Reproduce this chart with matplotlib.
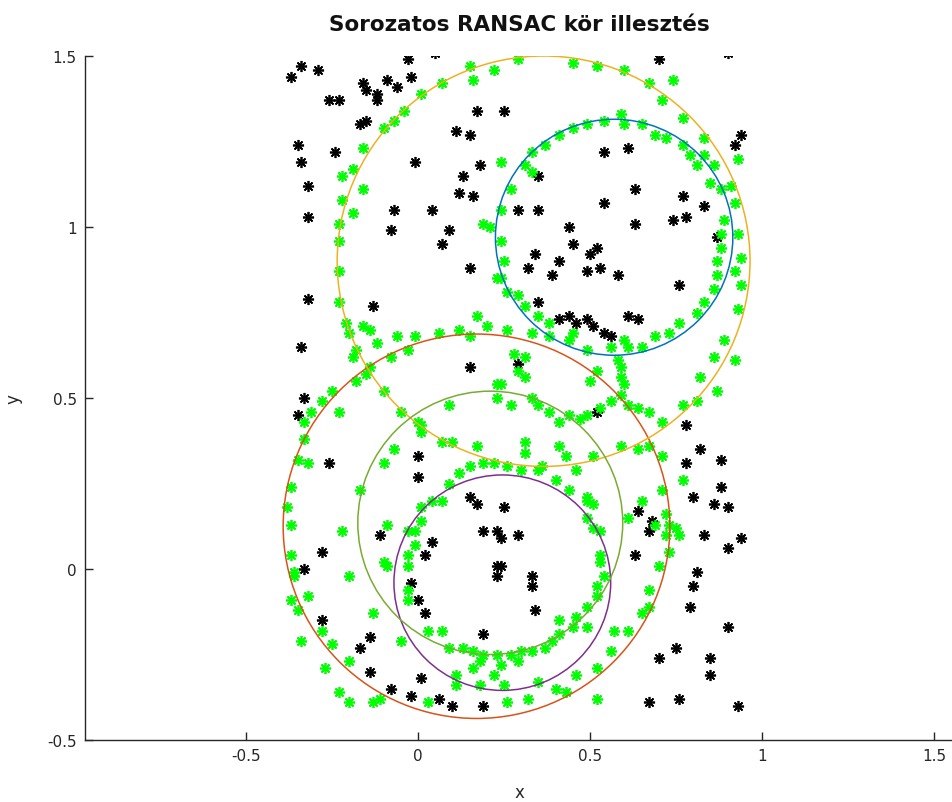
import numpy as np
import matplotlib
matplotlib.use("Agg")
import matplotlib.pyplot as plt
from matplotlib.patches import Circle

title = "Sorozatos RANSAC kör illesztés"
xlabel = "x"
ylabel = "y"
xticks = [-0.5, 0, 0.5, 1, 1.5]
xticklabels = ["-0.5", "0", "0.5", "1", "1.5"]
yticks = [-0.5, 0, 0.5, 1, 1.5]
yticklabels = ["-0.5", "0", "0.5", "1", "1.5"]

# fitted circles (center x, center y, radius)
circle_cx = [0.57, 0.17, 0.365, 0.245, 0.21]
circle_cy = [0.97, 0.125, 0.90, -0.04, 0.135]
circle_r = [0.345, 0.562, 0.60, 0.315, 0.385]
circle_colors = ["#0072BD", "#D95319", "#EDB120", "#7E2F8E", "#77AC30"]

# outlier points (black)
outlier_xy = [
    (-0.37, 1.44), (-0.34, 1.47), (-0.29, 1.46), (-0.03, 1.49), (0.05, 1.51),
    (-0.16, 1.42), (-0.15, 1.40), (-0.12, 1.39), (-0.12, 1.37), (-0.09, 1.43),
    (-0.06, 1.41), (-0.02, 1.44), (-0.26, 1.37), (-0.23, 1.37), (-0.17, 1.30),
    (-0.15, 1.31), (0.17, 1.34), (0.11, 1.28), (0.15, 1.27), (-0.35, 1.24),
    (-0.24, 1.22), (-0.34, 1.19), (-0.01, 1.19), (0.18, 1.18), (0.13, 1.15),
    (0.12, 1.10), (0.16, 1.09), (-0.32, 1.12), (-0.32, 1.03), (-0.07, 1.05),
    (0.04, 1.05), (-0.08, 0.99), (0.09, 0.99), (0.07, 0.95), (0.15, 0.88),
    (0.70, 1.49), (0.90, 1.51), (0.25, 1.34), (0.54, 1.22), (0.61, 1.23),
    (0.35, 1.15), (0.63, 1.11), (0.54, 1.07), (0.77, 1.09), (0.83, 1.06),
    (0.29, 1.05), (0.35, 1.05), (0.78, 1.03), (0.74, 1.02), (0.63, 1.01),
    (0.44, 1.00), (0.87, 0.97), (0.45, 0.95), (0.52, 0.94), (0.50, 0.92),
    (0.34, 0.92), (0.41, 0.90), (0.32, 0.88), (0.39, 0.86), (0.49, 0.87),
    (0.53, 0.88), (0.58, 0.86), (0.76, 0.83), (0.94, 1.27), (0.92, 1.24),
    (-0.32, 0.79), (-0.13, 0.77), (-0.34, 0.65), (0.15, 0.59), (-0.33, 0.50),
    (-0.35, 0.45), (-0.26, 0.31), (0.00, 0.33), (0.00, 0.27), (0.15, 0.21),
    (0.35, 0.78), (0.41, 0.73), (0.44, 0.74), (0.46, 0.72), (0.49, 0.73),
    (0.51, 0.71), (0.54, 0.69), (0.56, 0.68), (0.61, 0.74), (0.64, 0.73),
    (0.29, 0.60), (0.52, 0.46), (0.78, 0.42), (0.82, 0.35), (0.78, 0.31),
    (0.88, 0.32), (0.88, 0.24), (0.80, 0.21), (0.17, 0.19), (0.19, 0.11),
    (0.23, 0.11), (0.04, 0.08), (-0.11, 0.10), (0.02, 0.04), (-0.28, 0.05),
    (-0.33, 0.00), (-0.02, -0.04), (0.23, 0.01), (0.23, -0.02), (0.00, -0.09),
    (0.02, -0.13), (-0.28, -0.15), (0.19, -0.19), (-0.14, -0.20), (-0.17, -0.23),
    (-0.14, -0.30), (0.01, -0.32), (-0.08, -0.35), (-0.02, -0.37), (0.06, -0.38),
    (0.10, -0.40), (0.19, -0.40), (0.25, 0.18), (0.64, 0.17), (0.68, 0.14),
    (0.67, 0.11), (0.86, 0.19), (0.90, 0.18), (0.29, 0.10), (0.24, 0.09),
    (0.83, 0.10), (0.90, 0.06), (0.63, 0.04), (0.24, 0.01), (0.33, -0.02),
    (0.33, -0.05), (0.81, -0.01), (0.80, -0.05), (0.79, -0.11), (0.34, -0.12),
    (0.90, -0.17), (0.75, -0.23), (0.70, -0.26), (0.85, -0.26), (0.85, -0.31),
    (0.67, -0.39), (0.76, -0.38), (0.94, 0.09), (0.93, -0.40),
]

# inlier points (green)
inlier_xy = [
    (0.15, 1.47), (0.22, 1.46), (0.16, 1.43), (0.07, 1.42), (0.01, 1.39),
    (-0.04, 1.34), (-0.07, 1.31), (-0.10, 1.29), (-0.16, 1.23), (-0.19, 1.17),
    (-0.22, 1.15), (-0.16, 1.11), (-0.22, 1.08), (-0.19, 1.04), (-0.23, 1.01),
    (-0.23, 0.96), (0.19, 1.01), (0.21, 1.00), (0.24, 1.19),
    (0.29, 1.49), (0.45, 1.48), (0.52, 1.47), (0.60, 1.46), (0.67, 1.42),
    (0.74, 1.43), (0.71, 1.37), (0.77, 1.32), (0.83, 1.26), (0.59, 1.33),
    (0.54, 1.31), (0.49, 1.30), (0.60, 1.30), (0.65, 1.30), (0.69, 1.27),
    (0.72, 1.26), (0.45, 1.29), (0.41, 1.27), (0.37, 1.24), (0.33, 1.22),
    (0.31, 1.18), (0.33, 1.16), (0.27, 1.11), (0.24, 1.05), (0.77, 1.24),
    (0.79, 1.21), (0.83, 1.21), (0.81, 1.18), (0.86, 1.18), (0.85, 1.13),
    (0.88, 1.11), (0.89, 1.02), (0.88, 0.98), (0.88, 0.94), (0.87, 0.90),
    (0.24, 0.96), (0.25, 0.90),
    (0.93, 1.20), (0.92, 1.07), (0.93, 0.98), (0.94, 0.91), (0.91, 1.12),
    (0.92, 0.87), (0.94, 0.83), (0.93, 0.76), (0.92, 0.61),
    (-0.23, 0.87), (-0.23, 0.78), (-0.21, 0.72), (-0.20, 0.69), (-0.16, 0.71),
    (-0.14, 0.70), (-0.12, 0.66), (-0.18, 0.64), (-0.19, 0.62), (-0.14, 0.59),
    (-0.15, 0.57), (-0.18, 0.55), (-0.10, 0.52), (-0.06, 0.68), (-0.01, 0.68),
    (-0.03, 0.64), (-0.08, 0.62), (0.06, 0.69), (0.12, 0.70), (0.15, 0.68),
    (0.17, 0.74), (0.20, 0.71), (0.23, 0.85), (-0.25, 0.52), (-0.28, 0.49),
    (-0.23, 0.46), (-0.31, 0.46), (-0.33, 0.43), (-0.33, 0.38), (-0.35, 0.32),
    (-0.32, 0.31), (-0.37, 0.24), (-0.05, 0.46), (0.00, 0.43), (0.01, 0.42),
    (0.01, 0.40), (0.09, 0.48), (0.23, 0.54), (0.23, 0.50), (0.07, 0.37),
    (0.10, 0.37), (0.17, 0.36), (-0.07, 0.35), (-0.10, 0.31), (0.15, 0.30),
    (0.19, 0.31), (0.22, 0.31), (0.12, 0.28), (0.09, 0.25), (-0.17, 0.23),
    (0.24, 0.85), (0.26, 0.81), (0.29, 0.80), (0.31, 0.77), (0.35, 0.74),
    (0.38, 0.72), (0.26, 0.70), (0.33, 0.69), (0.38, 0.68), (0.45, 0.69),
    (0.44, 0.67), (0.49, 0.64), (0.56, 0.65), (0.60, 0.67), (0.61, 0.65),
    (0.65, 0.65), (0.69, 0.68), (0.73, 0.69), (0.76, 0.72), (0.81, 0.75),
    (0.83, 0.78), (0.86, 0.82), (0.87, 0.86), (0.89, 0.67), (0.86, 0.62),
    (0.82, 0.56), (0.87, 0.52), (0.77, 0.48), (0.81, 0.49), (0.71, 0.43),
    (0.64, 0.35), (0.67, 0.36), (0.71, 0.33), (0.59, 0.36), (0.28, 0.63),
    (0.31, 0.62), (0.29, 0.58), (0.31, 0.56), (0.24, 0.54), (0.27, 0.48),
    (0.33, 0.50), (0.35, 0.48), (0.38, 0.46), (0.41, 0.43), (0.44, 0.45),
    (0.47, 0.44), (0.49, 0.45), (0.53, 0.47), (0.56, 0.49), (0.59, 0.51),
    (0.60, 0.54), (0.59, 0.56), (0.59, 0.59), (0.58, 0.61), (0.50, 0.55),
    (0.61, 0.48), (0.64, 0.47), (0.67, 0.46), (0.52, 0.58), (0.31, 0.37),
    (0.31, 0.34), (0.26, 0.30), (0.30, 0.29), (0.35, 0.29), (0.36, 0.30),
    (0.41, 0.36), (0.43, 0.33), (0.46, 0.29), (0.51, 0.33), (0.40, 0.26),
    (0.44, 0.23), (0.49, 0.21), (0.77, 0.26), (0.65, 0.20), (0.71, 0.23),
    (-0.38, 0.18), (-0.37, 0.13), (-0.22, 0.11), (-0.09, 0.13), (0.01, 0.18),
    (0.04, 0.20), (0.07, 0.20), (-0.03, 0.11), (-0.01, 0.11), (0.01, 0.14),
    (-0.01, 0.07), (-0.03, 0.04), (-0.10, 0.02), (-0.09, 0.01), (-0.03, 0.01),
    (-0.37, 0.04), (-0.36, -0.01), (-0.36, -0.02), (-0.20, -0.02), (-0.03, -0.06),
    (-0.03, -0.09), (-0.37, -0.09), (-0.32, -0.08), (-0.35, -0.12), (-0.13, -0.13),
    (-0.28, -0.18), (-0.34, -0.21), (-0.25, -0.22), (-0.05, -0.21), (0.03, -0.18),
    (0.07, -0.18), (0.09, -0.23), (0.13, -0.23), (0.16, -0.24), (0.19, -0.25),
    (0.23, -0.25), (0.18, -0.27), (0.16, -0.29), (0.11, -0.31), (-0.20, -0.27),
    (-0.27, -0.29), (-0.23, -0.36), (-0.20, -0.39), (-0.13, -0.39), (-0.11, -0.38),
    (0.03, -0.39), (0.11, -0.34), (0.18, -0.34), (0.22, -0.31),
    (0.49, 0.20), (0.51, 0.19), (0.49, 0.15), (0.61, 0.15), (0.51, 0.12),
    (0.53, 0.11), (0.53, 0.04), (0.53, 0.02), (0.54, -0.02), (0.52, -0.05),
    (0.52, -0.08), (0.49, -0.11), (0.46, -0.14), (0.49, -0.17), (0.45, -0.17),
    (0.41, -0.15), (0.41, -0.19), (0.39, -0.21), (0.37, -0.23), (0.33, -0.24),
    (0.30, -0.24), (0.27, -0.25), (0.29, -0.27), (0.24, -0.28), (0.25, -0.34),
    (0.35, -0.33), (0.40, -0.35), (0.43, -0.36), (0.32, -0.38), (0.26, -0.39),
    (0.46, -0.31), (0.52, -0.29), (0.52, -0.38), (0.56, -0.24), (0.57, -0.18),
    (0.61, -0.18), (0.65, -0.13), (0.67, -0.11), (0.67, -0.06), (0.70, 0.01),
    (0.73, 0.05), (0.72, 0.10), (0.69, 0.13), (0.73, 0.13), (0.75, 0.12),
    (0.76, 0.10), (0.72, 0.16),
]

W, H = 953, 803
fig = plt.figure(figsize=(W / 100, H / 100), dpi=100)
ax = fig.add_axes([85 / W, 62 / H, 868 / W, 684 / H])

asterisk = (8, 2, 0)
ox, oy = zip(*outlier_xy)
ix, iy = zip(*inlier_xy)
ax.plot(ox, oy, linestyle="none", marker=asterisk, markersize=8,
        markeredgewidth=1.25, color="black", zorder=2)
ax.plot(ix, iy, linestyle="none", marker=asterisk, markersize=8,
        markeredgewidth=1.25, color="#00FF00", zorder=3)

for cx, cy, r, c in zip(circle_cx, circle_cy, circle_r, circle_colors):
    ax.add_patch(Circle((cx, cy), r, fill=False, edgecolor=c, linewidth=1.1, zorder=4))

ax.set_xlim(-0.968, 1.555)
ax.set_ylim(-0.5, 1.5)
ax.set_xticks(xticks)
ax.set_xticklabels(xticklabels)
ax.set_yticks(yticks)
ax.set_yticklabels(yticklabels)

for s in ["top", "right"]:
    ax.spines[s].set_visible(False)
for s in ["left", "bottom"]:
    ax.spines[s].set_color("#262626")
    ax.spines[s].set_linewidth(1.0)
ax.tick_params(direction="in", length=6, width=1.0, color="#262626",
               labelcolor="#262626", labelsize=11, pad=6)

ax.set_xlabel(xlabel, fontsize=12, color="#262626", labelpad=14)
ax.set_ylabel(ylabel, fontsize=12, color="#262626", labelpad=18)
ax.set_title(title, fontsize=15.5, fontweight="bold", color="#111111", pad=19)

fig.savefig("out.png", dpi=100)
